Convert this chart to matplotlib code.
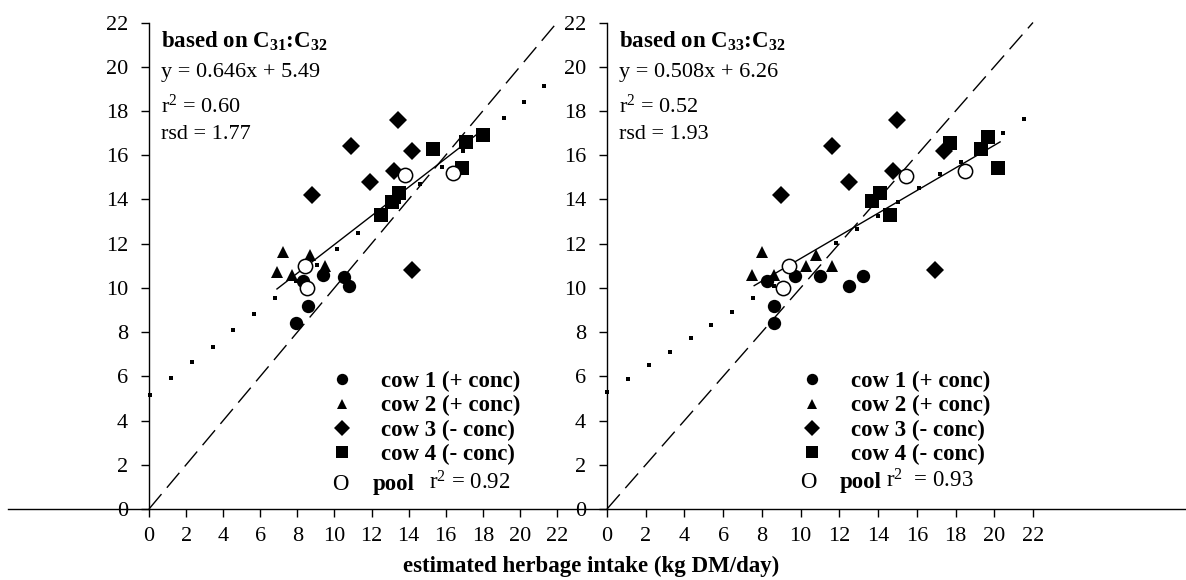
import matplotlib
matplotlib.use("Agg")
import matplotlib.pyplot as plt
from matplotlib.lines import Line2D

plt.rcParams['font.family'] = ['Liberation Serif', 'DejaVu Serif']
plt.rcParams['mathtext.fontset'] = 'custom'
plt.rcParams['mathtext.rm'] = 'Liberation Serif'
plt.rcParams['mathtext.it'] = 'Liberation Serif:italic'
plt.rcParams['mathtext.bf'] = 'Liberation Serif:bold'

# ---- left panel: based on C31:C32 ----
L_cow1_x = [7.9, 8.6, 8.3, 9.4, 10.5, 10.8]
L_cow1_y = [8.4, 9.2, 10.3, 10.6, 10.5, 10.1]
L_cow2_x = [7.2, 6.9, 7.7, 8.7, 9.5]
L_cow2_y = [11.6, 10.7, 10.6, 11.5, 11.0]
L_cow3_x = [10.9, 8.8, 11.9, 13.2, 14.2, 14.2, 13.4]
L_cow3_y = [16.4, 14.2, 14.8, 15.3, 16.2, 10.8, 17.6]
L_cow4_x = [12.5, 13.1, 13.5, 15.3, 16.9, 17.1, 18.0]
L_cow4_y = [13.3, 13.9, 14.3, 16.3, 15.4, 16.6, 16.9]
L_pool_x = [8.4, 8.5, 13.8, 16.4]
L_pool_y = [11.0, 10.0, 15.1, 15.2]
L_fit_x = [6.9, 18.0]
L_fit_y = [9.95, 17.15]
L_dot_x = [0.05, 1.17, 2.3, 3.43, 4.54, 5.66, 6.79, 7.9, 9.04, 10.15,
           11.28, 12.4, 13.5, 14.6, 15.78, 16.91, 18.0, 19.14, 20.23, 21.31]
L_dot_y = [5.16, 5.91, 6.63, 7.34, 8.1, 8.82, 9.53, 10.3, 11.04, 11.76,
           12.47, 13.2, 13.9, 14.7, 15.45, 16.2, 16.95, 17.7, 18.42, 19.13]

# ---- right panel: based on C33:C32 ----
R_cow1_x = [8.6, 8.6, 8.25, 9.7, 11.0, 12.5, 13.2]
R_cow1_y = [8.4, 9.2, 10.3, 10.55, 10.55, 10.1, 10.55]
R_cow2_x = [8.0, 7.5, 8.6, 10.3, 10.8, 11.6]
R_cow2_y = [11.6, 10.6, 10.6, 11.0, 11.5, 11.0]
R_cow3_x = [11.6, 9.0, 12.5, 14.75, 16.95, 17.4, 15.0]
R_cow3_y = [16.4, 14.2, 14.8, 15.3, 10.8, 16.2, 17.6]
R_cow4_x = [13.7, 14.1, 14.6, 17.7, 19.3, 19.7, 20.2]
R_cow4_y = [13.95, 14.3, 13.3, 16.55, 16.3, 16.8, 15.4]
R_pool_x = [9.4, 9.1, 15.45, 18.5]
R_pool_y = [11.0, 10.0, 15.05, 15.3]
R_fit_x = [7.6, 20.3]
R_fit_y = [10.1, 16.6]
R_dot_x = [0.02, 1.1, 2.19, 3.26, 4.32, 5.37, 6.44, 7.52, 8.6, 9.67, 10.75,
           11.83, 12.9, 13.98, 15.05, 16.13, 17.2, 18.3, 19.4, 20.47, 21.54]
R_dot_y = [5.28, 5.9, 6.51, 7.12, 7.72, 8.32, 8.92, 9.53, 10.1, 10.75, 11.4,
           12.02, 12.65, 13.25, 13.9, 14.5, 15.15, 15.7, 16.35, 16.99, 17.63]

one_to_one = [0, 22]
ticks = list(range(0, 23, 2))
labels = ['cow 1 (+ conc)', 'cow 2 (+ conc)', 'cow 3 (- conc)', 'cow 4 (- conc)']

FS = 16


def draw_panel(ax, cows, pool, fit, dots, header, eq, r2, rsd, pool_r2, leg_x, pool_pos):
    ax.plot(one_to_one, one_to_one, color='black', lw=1.0, dashes=(14, 6), clip_on=False)
    ax.plot(dots[0], dots[1], 's', color='black', ms=3.2, mew=0, clip_on=False)
    ax.plot(fit[0], fit[1], color='black', lw=1.0)
    markers = ['o', '^', 'D', 's']
    sizes = [9.6, 9, 9, 9.4]
    handles = []
    for (cx, cy), m, s, lab in zip(cows, markers, sizes, labels):
        h, = ax.plot(cx, cy, m, color='black', ms=s, mew=0, label=lab)
        handles.append(h)
    ax.plot(pool[0], pool[1], 'o', mfc='white', mec='black', ms=10.3, mew=1.1)

    ax.set_xlim(0, 22)
    ax.set_ylim(0, 22)
    ax.set_xticks(ticks)
    ax.set_yticks(ticks)
    ax.tick_params(axis='both', labelsize=FS, length=6, width=1, direction='out', colors='black')
    ax.tick_params(axis='y', pad=9)
    ax.tick_params(axis='x', pad=7)
    for s in ['top', 'right', 'bottom']:
        ax.spines[s].set_visible(False)
    ax.spines['left'].set_linewidth(1.0)

    ax.text(0.63, 20.84, header, fontsize=FS + 0.5, fontweight='bold', va='baseline')
    ax.text(0.63, 19.55, eq, fontsize=FS, va='baseline')
    ax.text(0.63, 17.92, r2, fontsize=FS, va='baseline')
    ax.text(0.63, 16.74, rsd, fontsize=FS, va='baseline')

    ax.legend(handles=handles, loc='upper left', bbox_to_anchor=(leg_x, 6.23),
              bbox_transform=ax.transData, frameon=False, numpoints=1,
              markerscale=0.85, handlelength=1.0, handletextpad=1.2,
              labelspacing=0.13, borderpad=0, borderaxespad=0,
              prop={'family': 'Liberation Serif', 'weight': 'bold', 'size': FS + 0.5})
    ox, px, rx, ry = pool_pos
    ax.text(ox, ry, 'O', fontsize=FS + 0.5, ha='center', va='baseline')
    ax.text(px, ry, 'pool', fontsize=FS + 0.5, fontweight='bold', va='baseline')
    ax.text(rx, ry, pool_r2, fontsize=FS + 0.5, va='baseline')


fig = plt.figure(figsize=(11.86, 5.8), dpi=100)
axL = fig.add_axes([149 / 1186, 71 / 580, 408 / 1186, 486.5 / 580])
axR = fig.add_axes([607 / 1186, 71 / 580, 426 / 1186, 486.5 / 580])

draw_panel(axL,
           [(L_cow1_x, L_cow1_y), (L_cow2_x, L_cow2_y), (L_cow3_x, L_cow3_y), (L_cow4_x, L_cow4_y)],
           (L_pool_x, L_pool_y), (L_fit_x, L_fit_y), (L_dot_x, L_dot_y),
           r'based on C$_{\mathbf{31}}$:C$_{\mathbf{32}}$', 'y = 0.646x + 5.49',
           r'r$^{2}$ = 0.60', 'rsd = 1.77', r'r$^{2}$ = 0.92',
           9.77, (10.32, 12.06, 15.09, 0.86))
draw_panel(axR,
           [(R_cow1_x, R_cow1_y), (R_cow2_x, R_cow2_y), (R_cow3_x, R_cow3_y), (R_cow4_x, R_cow4_y)],
           (R_pool_x, R_pool_y), (R_fit_x, R_fit_y), (R_dot_x, R_dot_y),
           r'based on C$_{\mathbf{33}}$:C$_{\mathbf{32}}$', 'y = 0.508x + 6.26',
           r'r$^{2}$ = 0.52', 'rsd = 1.93', r'r$^{2}$  = 0.93',
           9.98, (10.38, 12.04, 14.4, 0.95))

# long horizontal base line across the whole figure
fig.add_artist(Line2D([8 / 1186, 1.0], [71 / 580, 71 / 580], color='black', lw=1.0))

fig.text(591 / 1186, 1 - 566 / 580, 'estimated herbage intake (kg DM/day)',
         fontsize=FS + 0.5, fontweight='bold', ha='center', va='center')

fig.savefig('out.png', dpi=100)
